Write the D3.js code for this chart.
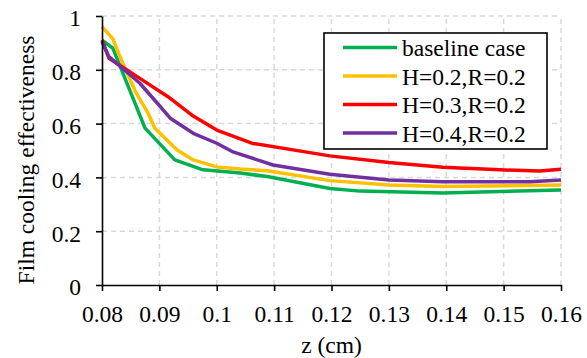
<!DOCTYPE html>
<html>
<head>
<meta charset="utf-8">
<script src="https://cdn.jsdelivr.net/npm/d3@7"></script>
<style>
  body { margin: 0; background: #fff; }
</style>
</head>
<body>
<figure id="chart" style="margin:0"></figure>
<script>
// series data
const seriesNames = ["baseline case", "H=0.2,R=0.2", "H=0.3,R=0.2", "H=0.4,R=0.2"];
const seriesColors = ["#00b050", "#ffc000", "#ff0000", "#7030a0"];

const baselineZ = [0.08, 0.0819, 0.0875, 0.0927, 0.0976, 0.1041, 0.1088, 0.1197, 0.125, 0.1394, 0.16];
const baselineEta = [0.91, 0.88, 0.583, 0.465, 0.428, 0.416, 0.403, 0.359, 0.349, 0.342, 0.353];

const h02Z = [0.08, 0.0819, 0.0831, 0.0858, 0.088, 0.0892, 0.0931, 0.0959, 0.1, 0.1041, 0.1088, 0.1197, 0.13, 0.1394, 0.16];
const h02Eta = [0.96, 0.915, 0.85, 0.72, 0.64, 0.583, 0.502, 0.465, 0.439, 0.431, 0.425, 0.388, 0.372, 0.366, 0.372];

const h03Z = [0.08, 0.0812, 0.0866, 0.0915, 0.0959, 0.1, 0.1061, 0.1197, 0.13, 0.1394, 0.1494, 0.1563, 0.16];
const h03Eta = [0.91, 0.843, 0.768, 0.7, 0.628, 0.576, 0.527, 0.48, 0.455, 0.438, 0.428, 0.424, 0.43];

const h04Z = [0.08, 0.0812, 0.0866, 0.0919, 0.0959, 0.1, 0.1027, 0.1098, 0.1197, 0.13, 0.1394, 0.1546, 0.16];
const h04Eta = [0.905, 0.849, 0.75, 0.62, 0.564, 0.527, 0.496, 0.446, 0.412, 0.39, 0.384, 0.384, 0.39];

const xTicks = [0.08, 0.09, 0.1, 0.11, 0.12, 0.13, 0.14, 0.15, 0.16];
const yTicks = [0, 0.2, 0.4, 0.6, 0.8, 1];

const allZ = [baselineZ, h02Z, h03Z, h04Z];
const allEta = [baselineEta, h02Eta, h03Eta, h04Eta];

const W = 587, H = 358;
const margin = { left: 102, right: 26, top: 16, bottom: 73 };
const fontSize = 23.5;
const serif = '"Liberation Serif", "Times New Roman", Times, serif';

const svg = d3.select("#chart")
  .append("svg")
  .attr("width", W)
  .attr("height", H)
  .style("font-family", serif);

const x = d3.scaleLinear().domain([0.08, 0.16]).range([margin.left, W - margin.right]);
const y = d3.scaleLinear().domain([0, 1]).range([H - margin.bottom, margin.top]);

// dashed grid
svg.append("g")
  .selectAll("line")
  .data(xTicks.slice(1))
  .enter().append("line")
  .attr("x1", d => x(d)).attr("x2", d => x(d))
  .attr("y1", y(0)).attr("y2", y(1))
  .attr("stroke", "#d9d9d9").attr("stroke-width", 1.5)
  .attr("stroke-dasharray", "5,4");
svg.append("g")
  .selectAll("line")
  .data(yTicks.slice(1))
  .enter().append("line")
  .attr("x1", x(0.08)).attr("x2", x(0.16))
  .attr("y1", d => y(d)).attr("y2", d => y(d))
  .attr("stroke", "#d9d9d9").attr("stroke-width", 1.5)
  .attr("stroke-dasharray", "5,4");

// lines
const line = d3.line().x(d => x(d[0])).y(d => y(d[1]));
seriesNames.forEach((name, i) => {
  const pts = allZ[i].map((z, k) => [z, allEta[i][k]]);
  svg.append("path")
    .datum(pts)
    .attr("fill", "none")
    .attr("stroke", seriesColors[i])
    .attr("stroke-width", 3.5)
    .attr("stroke-linejoin", "round")
    .attr("d", line);
});

// axes
const xAxis = svg.append("g")
  .attr("transform", "translate(0," + y(0) + ")")
  .call(d3.axisBottom(x).tickValues(xTicks).tickFormat(d => String(+d.toFixed(2))).tickSize(6).tickSizeOuter(0));
xAxis.selectAll(".tick text").attr("y", 36.5).attr("dy", null);

const yAxis = svg.append("g")
  .attr("transform", "translate(" + x(0.08) + ",0)")
  .call(d3.axisLeft(y).tickValues(yTicks).tickFormat(d => String(d)).tickSize(6).tickSizeOuter(0));
yAxis.selectAll(".tick text").attr("x", -21).attr("dy", "0.42em");

[xAxis, yAxis].forEach(a => {
  a.attr("font-family", null).attr("font-size", null);
  a.select(".domain").attr("stroke", "#000").attr("stroke-width", 1.6);
  a.selectAll(".tick line").attr("stroke", "#000").attr("stroke-width", 1.6);
  a.selectAll("text")
    .attr("fill", "#000")
    .style("font-size", fontSize + "px")
    .style("font-family", serif);
});

// axis titles
svg.append("text")
  .attr("x", (x(0.08) + x(0.16)) / 2)
  .attr("y", 353)
  .attr("text-anchor", "middle")
  .style("font-size", fontSize + "px")
  .style("font-family", serif)
  .text("z (cm)");
svg.append("text")
  .attr("transform", "translate(34,160) rotate(-90)")
  .attr("text-anchor", "middle")
  .style("font-size", fontSize + "px")
  .style("font-family", serif)
  .text("Film cooling effectiveness");

// legend
const legend = svg.append("g");
legend.append("rect")
  .attr("x", 324).attr("y", 33).attr("width", 223).attr("height", 116)
  .attr("fill", "#fff").attr("stroke", "#000").attr("stroke-width", 1.6);
seriesNames.forEach((name, i) => {
  const ly = 47.5 + i * 28.5;
  legend.append("line")
    .attr("x1", 343).attr("x2", 397)
    .attr("y1", ly).attr("y2", ly)
    .attr("stroke", seriesColors[i]).attr("stroke-width", 3.5);
  legend.append("text")
    .attr("x", 402).attr("y", ly + 8.5)
    .style("font-size", fontSize + "px")
    .style("font-family", serif)
    .text(name);
});
</script>
</body>
</html>
